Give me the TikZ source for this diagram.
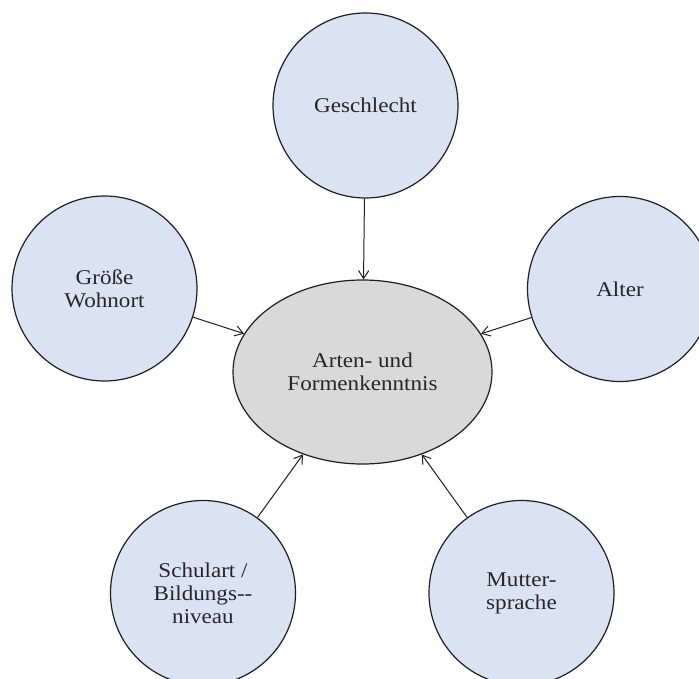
\documentclass[tikz,border=0pt]{standalone}
\usepackage{fontspec}
\setmainfont{Liberation Serif}[FakeStretch=1.1]
\usetikzlibrary{shapes.geometric,arrows.meta}
\definecolor{circfill}{HTML}{DAE3F3}
\definecolor{ellfill}{HTML}{D9D9D9}
\definecolor{linec}{HTML}{1E1E1E}
\tikzset{
  factor/.style={circle, draw=linec, line width=1.2pt, fill=circfill, minimum size=185pt, inner sep=0pt, align=center, font=\fontsize{21}{23}\selectfont, text=black!85},
  centre/.style={ellipse, draw=linec, line width=1.2pt, fill=ellfill, minimum width=259pt, minimum height=184pt, inner sep=0pt, align=center, font=\fontsize{21}{23}\selectfont, text=black!85},
  conn/.style={draw=linec, line width=1pt, -{Straight Barb[length=2.8mm,width=3.6mm]}}
}
\begin{document}
\begin{tikzpicture}[x=1pt,y=-1pt]
\useasboundingbox (0,0) rectangle (699,679);
\node[centre] (c) at (362.5,372) {Arten- und\\Formenkenntnis};
\node[factor] (g) at (365.5,105.5) {Geschlecht};
\node[factor] (w) at (104.5,288.5) {Größe\\Wohnort};
\node[factor] (a) at (620,289) {Alter};
\node[factor] (s) at (203,593) {Schulart /\\Bildungs-{}-\\niveau};
\node[factor] (m) at (521.5,593) {Mutter-\\sprache};
\draw[conn] (g) -- (c);
\draw[conn] (w) -- (c);
\draw[conn] (a) -- (c);
\draw[conn] (s) -- (c);
\draw[conn] (m) -- (c);
\end{tikzpicture}
\end{document}
